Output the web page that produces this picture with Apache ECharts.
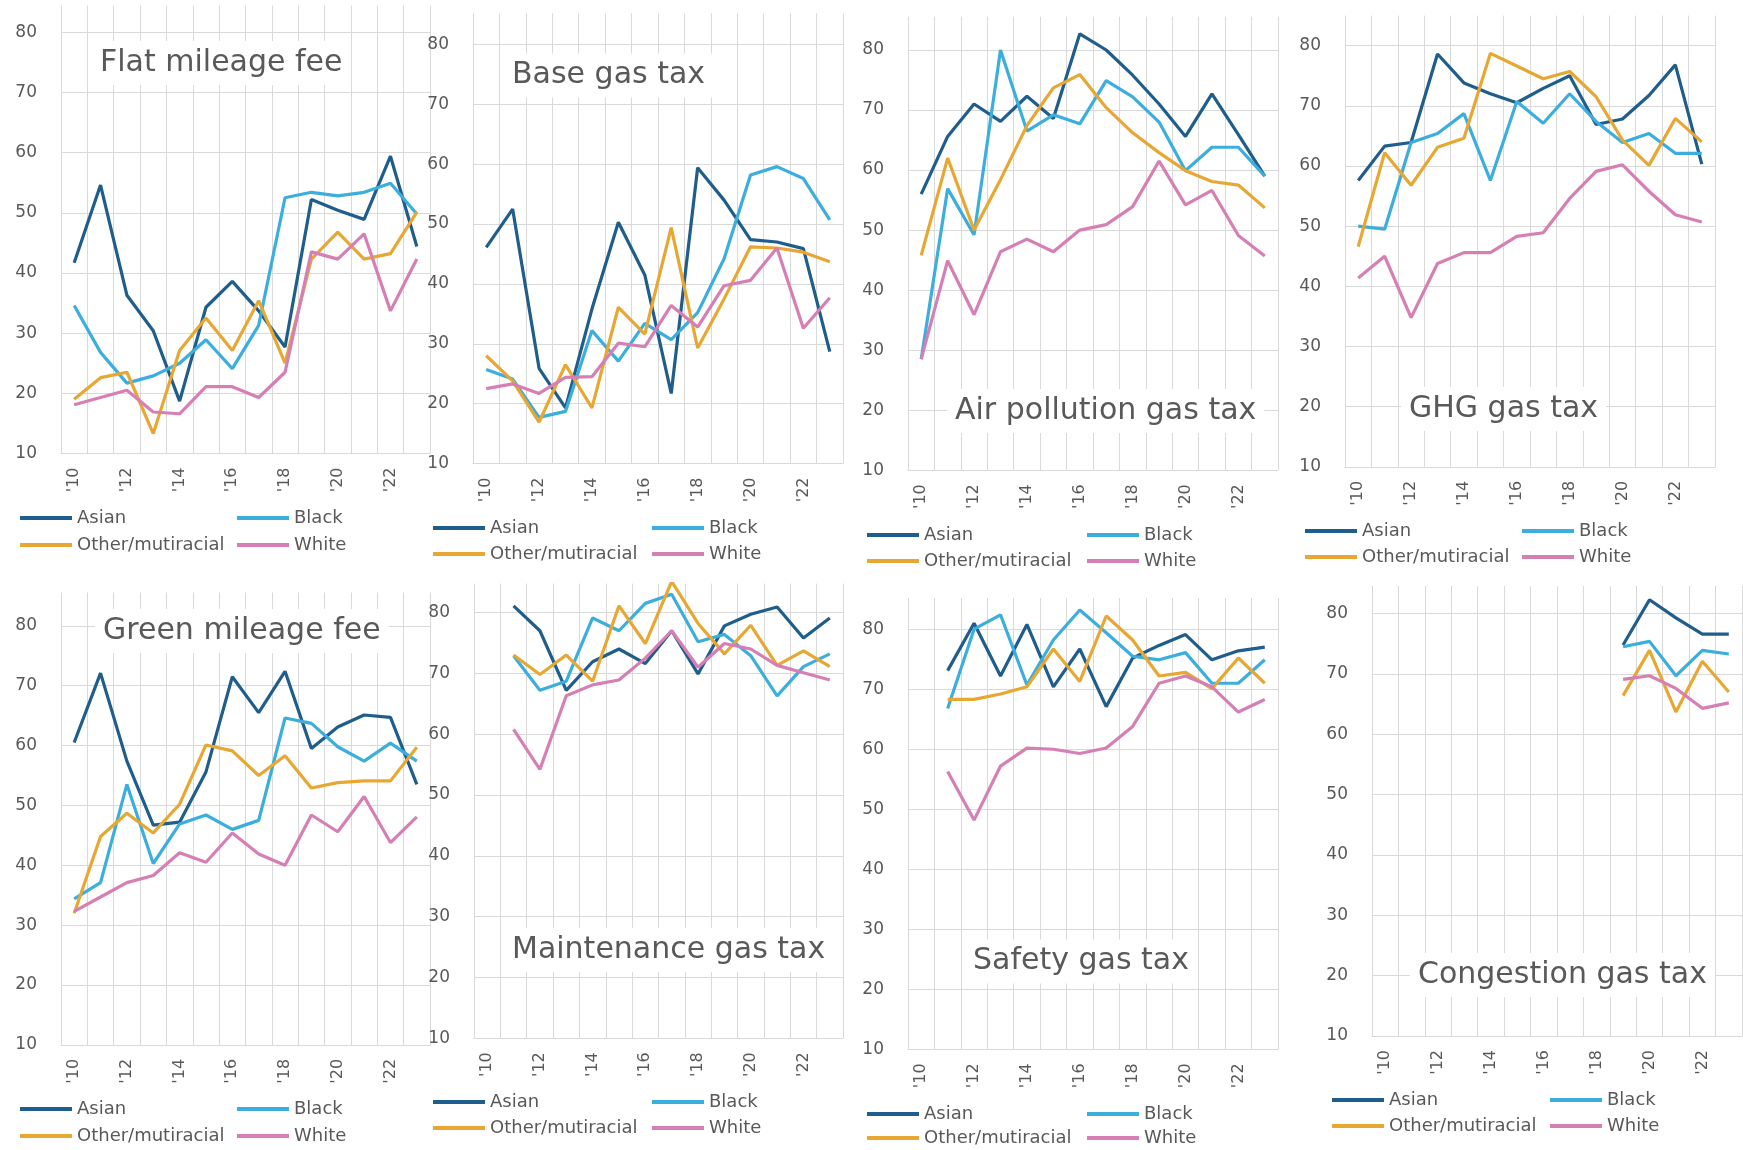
<!DOCTYPE html>
<html><head><meta charset="utf-8">
<script src="https://cdn.jsdelivr.net/npm/echarts@6/dist/echarts.min.js"></script>
<style>html,body{margin:0;padding:0;background:#fff}#c{width:1743px;height:1150px}</style>
</head><body><div id="c"></div><script>
// ---------------- DATA ----------------
const years = ["'10","'11","'12","'13","'14","'15","'16","'17","'18","'19","'20","'21","'22","'23"];
const groups = ['Asian','Black','Other/mutiracial','White'];
const panelTitles = ['Flat mileage fee','Base gas tax','Air pollution gas tax','GHG gas tax',
  'Green mileage fee','Maintenance gas tax','Safety gas tax','Congestion gas tax'];
const yTickLabels = [10,20,30,40,50,60,70,80];

const flatAsian = [41.7,54.6,36.3,30.4,18.7,34.3,38.6,33.7,27.7,52.2,50.4,48.9,59.4,44.4];
const flatBlack = [34.6,26.8,21.7,22.9,25.0,28.9,24.1,31.3,52.5,53.4,52.8,53.4,54.9,49.8];
const flatOther = [19.0,22.6,23.5,13.3,27.1,32.5,27.1,35.4,25.0,42.3,46.8,42.3,43.2,50.1];
const flatWhite = [18.1,19.3,20.5,16.9,16.6,21.1,21.1,19.3,23.5,43.5,42.3,46.5,33.7,42.3];

const baseAsian = [46.1,52.5,25.9,19.3,35.8,50.3,41.5,21.7,59.4,54.0,47.4,47.0,45.9,28.7];
const baseBlack = [25.7,24.1,17.7,18.7,32.2,27.1,33.4,30.7,35.2,44.2,58.2,59.6,57.6,50.7];
const baseOther = [28.0,23.8,16.9,26.5,19.3,36.1,31.6,49.4,29.3,37.5,46.2,46.0,45.3,43.7];
const baseWhite = [22.5,23.3,21.7,24.4,24.5,30.1,29.5,36.4,32.8,39.7,40.6,46.0,32.6,37.7];

const airAsian = [56.0,65.6,71.0,68.1,72.3,68.6,82.7,80.0,75.8,71.0,65.6,72.7,65.9,59.0];
const airBlack = [28.5,56.9,49.2,80.0,66.5,69.2,67.7,74.9,72.2,68.0,59.9,63.8,63.8,59.0];
const airOther = [45.8,62.0,50.0,58.4,67.4,73.7,75.9,70.4,66.2,62.9,59.9,58.1,57.5,53.7];
const airWhite = [28.5,44.9,35.9,46.4,48.5,46.4,50.0,50.9,53.9,61.5,54.2,56.6,49.1,45.7];

const ghgAsian = [57.6,63.3,63.9,78.6,73.8,72.0,70.5,72.9,75.0,66.9,67.8,71.7,76.8,60.3];
const ghgBlack = [50.0,49.5,63.9,65.4,68.7,57.6,70.7,67.1,72.0,67.4,63.9,65.4,62.1,62.1];
const ghgOther = [46.6,62.2,56.8,63.1,64.6,78.7,76.6,74.5,75.7,71.5,64.3,60.1,67.9,64.0];
const ghgWhite = [41.4,45.0,34.8,43.8,45.6,45.6,48.3,48.9,54.6,59.1,60.2,55.8,51.9,50.7];

const greenAsian = [60.5,72.1,57.4,46.7,47.2,55.6,71.5,65.5,72.4,59.5,63.1,65.1,64.7,53.5];
const greenBlack = [34.4,37.1,53.5,40.3,46.9,48.4,46.0,47.5,64.6,63.7,59.8,57.4,60.4,57.4];
const greenOther = [32.0,44.8,48.7,45.4,50.2,60.1,59.1,55.0,58.3,52.9,53.8,54.1,54.1,59.7];
const greenWhite = [32.3,34.7,37.1,38.3,42.1,40.5,45.4,41.9,40.0,48.4,45.6,51.5,43.8,48.1];

const maintAsian = [null,81.1,77.0,67.2,71.9,74.0,71.6,77.0,69.9,77.8,79.7,80.9,75.8,79.1];
const maintBlack = [null,72.9,67.2,68.7,79.1,77.0,81.5,83.0,75.2,76.4,72.9,66.3,71.1,73.2];
const maintOther = [null,73.0,69.8,73.0,68.7,81.1,74.9,85.1,78.2,73.2,77.9,71.3,73.7,71.1];
const maintWhite = [null,60.8,54.2,66.3,68.1,68.9,72.5,77.0,71.0,74.9,74.0,71.3,70.1,68.9];

const safetyAsian = [null,73.1,81.0,72.2,80.8,70.4,76.7,67.1,75.2,77.3,79.1,74.9,76.4,77.0];
const safetyBlack = [null,66.8,80.0,82.4,70.7,78.2,83.2,79.4,75.5,74.9,76.1,71.0,71.0,74.9];
const safetyOther = [null,68.3,68.3,69.2,70.4,76.7,71.3,82.2,78.2,72.2,72.8,70.1,75.2,71.0];
const safetyWhite = [null,56.3,48.2,57.2,60.2,60.0,59.3,60.2,63.8,71.0,72.2,70.4,66.2,68.3];

const congAsian = [null,null,null,null,null,null,null,null,null,74.8,82.3,79.3,76.6,76.6];
const congBlack = [null,null,null,null,null,null,null,null,null,74.5,75.4,69.7,73.9,73.3];
const congOther = [null,null,null,null,null,null,null,null,null,66.4,73.9,63.7,72.1,67.0];
const congWhite = [null,null,null,null,null,null,null,null,null,69.1,69.7,67.6,64.3,65.2];

const panelData = [
  [flatAsian, flatBlack, flatOther, flatWhite],
  [baseAsian, baseBlack, baseOther, baseWhite],
  [airAsian, airBlack, airOther, airWhite],
  [ghgAsian, ghgBlack, ghgOther, ghgWhite],
  [greenAsian, greenBlack, greenOther, greenWhite],
  [maintAsian, maintBlack, maintOther, maintWhite],
  [safetyAsian, safetyBlack, safetyOther, safetyWhite],
  [congAsian, congBlack, congOther, congWhite]
];

// ---------------- LAYOUT / STYLE ----------------
const colors = ['#1f5d8c','#3caedd','#e8a732','#d67fb4'];
const FONT = 'DejaVu Sans';
const TXT = '#595959';
const GRIDC = '#d9d9d9';
// left, right, y of 80, y of 10, top of plot, title x, title center y, legend rows y, legend cols x
const layout = [
  {l:61,  r:430,  y80:32.2,  y10:453.5,  top:5.6,   tx:100,  ty:63,    r1:518,  r2:545,  c1:20,   c2:237},
  {l:473, r:843,  y80:44.5,  y10:463.5,  top:13.3,  tx:512,  ty:75.6,  r1:528,  r2:554,  c1:433,  c2:652},
  {l:908, r:1278, y80:50,    y10:470.2,  top:16.7,  tx:955,  ty:411,   r1:535,  r2:561,  c1:867,  c2:1087},
  {l:1345,r:1715, y80:45.6,  y10:466.9,  top:15.6,  tx:1409, ty:409,   r1:531,  r2:557,  c1:1305, c2:1522},
  {l:61,  r:430,  y80:625.8, y10:1044.9, top:592.5, tx:103,  ty:631,   r1:1109, r2:1136, c1:20,   c2:237},
  {l:474, r:843,  y80:612.5, y10:1038.2, top:583.6, tx:512,  ty:950,   r1:1102, r2:1128, c1:433,  c2:652},
  {l:908, r:1278, y80:629.2, y10:1049.4, top:598,   tx:973,  ty:961.5, r1:1114, r2:1138, c1:867,  c2:1087},
  {l:1372,r:1742, y80:613.6, y10:1036,   top:586,   tx:1418, ty:975,   r1:1100, r2:1126, c1:1332, c2:1550}
];

const grid = [], xAxis = [], yAxis = [], series = [], title = [], legend = [];
layout.forEach((L, i) => {
  const maxV = yTickLabels[yTickLabels.length-1] + (L.y80 - L.top) * 70 / (L.y10 - L.y80);
  grid.push({left:L.l, top:L.top, width:L.r - L.l, height:L.y10 - L.top, containLabel:false});
  xAxis.push({
    type:'category', gridIndex:i, data:years, boundaryGap:true,
    axisLine:{show:true, lineStyle:{color:GRIDC, width:1}},
    axisTick:{show:false},
    axisLabel:{interval:1, rotate:90, margin:14, fontSize:16, color:TXT, fontFamily:FONT},
    splitLine:{show:true, interval:0, lineStyle:{color:GRIDC, width:1}}
  });
  yAxis.push({
    type:'value', gridIndex:i, min:yTickLabels[0], max:maxV, interval:10,
    axisLine:{show:false}, axisTick:{show:false},
    axisLabel:{showMaxLabel:false, margin:24, fontSize:17, color:TXT, fontFamily:FONT,
      formatter: v => (yTickLabels.indexOf(v) >= 0 ? String(v) : '')},
    splitLine:{show:true, showMaxLine:false, lineStyle:{color:GRIDC, width:1}}
  });
  groups.forEach((g, k) => {
    series.push({
      type:'line', name:g, xAxisIndex:i, yAxisIndex:i, data:panelData[i][k],
      symbol:'none', showSymbol:false, color:colors[k],
      lineStyle:{width:3.2, color:colors[k]}, itemStyle:{color:colors[k]},
      emphasis:{disabled:true}, animation:false
    });
    legend.push({
      data:[g], left:(k % 2 ? L.c2 : L.c1), top:(k < 2 ? L.r1 : L.r2) - 10,
      padding:0, icon:'rect', itemWidth:52, itemHeight:4, selectedMode:false,
      textStyle:{fontSize:18, color:TXT, fontFamily:FONT, lineHeight:20}
    });
  });
  title.push({
    text:panelTitles[i], left:L.tx - 8, top:L.ty - 22, padding:[4,8],
    backgroundColor:'#ffffff',
    textStyle:{fontSize:30, fontWeight:'normal', color:TXT, fontFamily:FONT, lineHeight:36}
  });
});

const chart = echarts.init(document.getElementById('c'), null, {renderer:'canvas'});
chart.setOption({backgroundColor:'#ffffff', animation:false, title, legend, grid, xAxis, yAxis, series});
</script></body></html>
